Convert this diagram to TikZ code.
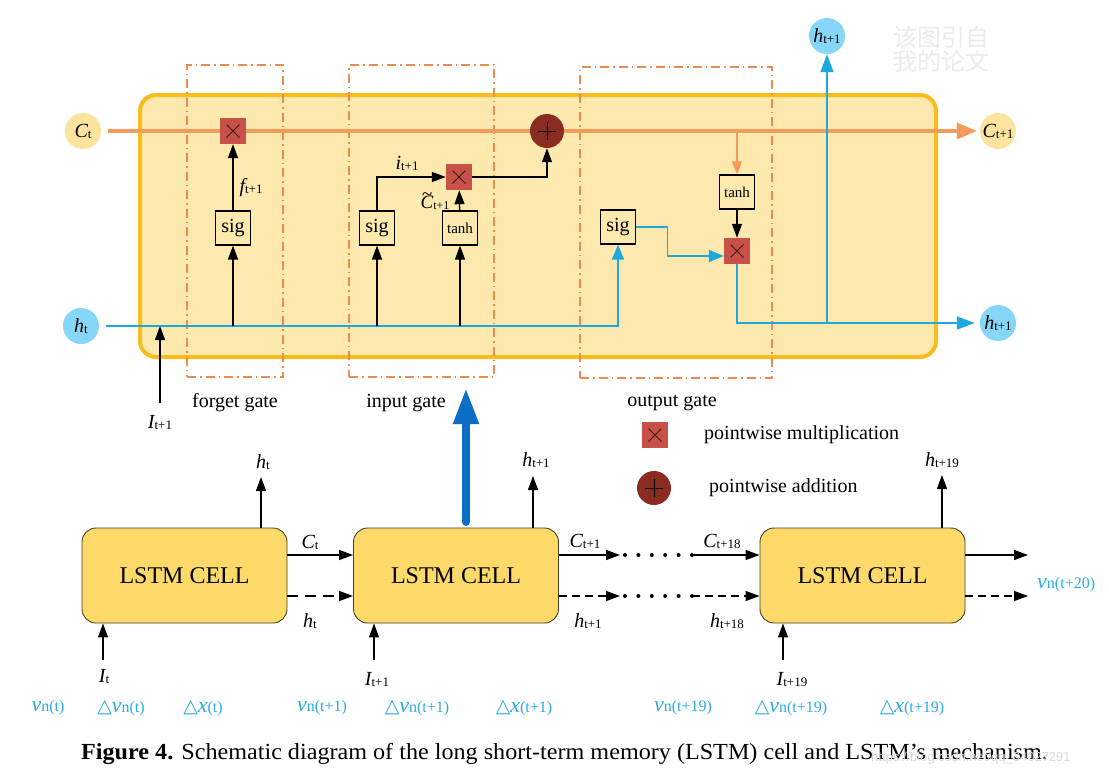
\documentclass[tikz,border=0pt]{standalone}
\usepackage{fontspec}
\setmainfont{Liberation Serif}
\newfontfamily\cjkfont{Noto Sans CJK SC}
\newfontfamily\djvfont{DejaVu Sans}
\newfontfamily\wmfont{Liberation Sans}
\usetikzlibrary{arrows.meta,calc}

\definecolor{gold}{HTML}{F8BD1C}
\definecolor{boxfill}{HTML}{FDE8AE}
\definecolor{cellfill}{HTML}{FDD96A}
\definecolor{celldark}{HTML}{4D4020}
\definecolor{corange}{HTML}{F39B5A}
\definecolor{gateor}{HTML}{EA8B4F}
\definecolor{circC}{HTML}{FCE39E}
\definecolor{circH}{HTML}{86D6F7}
\definecolor{hblue}{HTML}{1EA8E0}
\definecolor{multred}{HTML}{C8524A}
\definecolor{plusred}{HTML}{8B2C22}
\definecolor{xdark}{HTML}{3A1A12}
\definecolor{bigblue}{HTML}{0C6FC5}
\definecolor{labblue}{HTML}{2AACE2}
\definecolor{wmgray}{HTML}{EBEBEB}
\definecolor{wmgrayb}{HTML}{DADADA}

\newcommand{\mylab}[2]{{\fontsize{20}{20}\selectfont\itshape #1}{\fontsize{13}{13}\selectfont\raisebox{-1pt}{#2}}}
\newcommand{\vlab}[2]{{\fontsize{22}{22}\selectfont\itshape #1}{\fontsize{16}{16}\selectfont #2}}
\newcommand{\trisym}{{\djvfont\fontsize{19}{19}\selectfont △}}
\newcommand{\tildeC}{\ooalign{\textit{C}\cr\hidewidth\raisebox{0.45em}{\textit{\char"7E}}\hidewidth\cr}}

\begin{document}
\begin{tikzpicture}[x=1pt,y=-1pt,
  every node/.style={inner sep=1pt, font=\fontsize{20}{24}\selectfont},
  bigbox/.style={draw=gold, fill=boxfill, line width=4pt, rounded corners=16pt, minimum width=796pt, minimum height=262pt},
  gatebox/.style={draw=gateor, line width=1.2pt, dash pattern=on 9pt off 4pt on 1.5pt off 4pt},
  sigbox/.style={draw, line width=1.2pt, fill=boxfill, minimum width=35pt, minimum height=34pt, inner sep=0pt, font=\fontsize{20}{20}\selectfont},
  tanhbox/.style={sigbox, font=\fontsize{15}{15}\selectfont},
  mult/.style={fill=multred, minimum size=26pt, inner sep=0pt,
    path picture={\draw[line width=0.8pt, draw=xdark]
      ([shift={(-6.5pt,-6.5pt)}]path picture bounding box.center) -- ([shift={(6.5pt,6.5pt)}]path picture bounding box.center)
      ([shift={(-6.5pt,6.5pt)}]path picture bounding box.center) -- ([shift={(6.5pt,-6.5pt)}]path picture bounding box.center);}},
  plus/.style={circle, fill=plusred, minimum size=34pt, inner sep=0pt,
    path picture={\draw[line width=0.9pt, draw=black]
      ([xshift=-9pt]path picture bounding box.center) -- ([xshift=9pt]path picture bounding box.center)
      ([yshift=-9pt]path picture bounding box.center) -- ([yshift=9pt]path picture bounding box.center);}},
  ccirc/.style={circle, fill=circC, minimum size=36pt, inner sep=0pt},
  hcirc/.style={circle, fill=circH, minimum size=36pt, inner sep=0pt},
  cellbox/.style={draw=celldark, line width=0.9pt, fill=cellfill, rounded corners=14pt, minimum width=205pt, minimum height=95pt, font=\fontsize{24}{24}\selectfont},
  barr/.style={line width=1.3pt, -{Triangle[length=14pt,width=10pt]}},
  blarr/.style={line width=1.6pt, draw=hblue, hblue, -{Triangle[length=18pt,width=13pt]}},
  carr/.style={line width=3.5pt, draw=corange, corange},
  bluelab/.style={text=labblue}
]
\fill[white] (0,0) rectangle (1109,777);
\useasboundingbox (0,0) rectangle (1109,777);

% ---------- top cell ----------
\node[bigbox] (cellbig) at (538,226) {};
\node[gatebox, minimum width=96pt, minimum height=312pt] (gf) at (235,221) {};
\node[gatebox, minimum width=145pt, minimum height=312pt] (gi) at (421.5,221) {};
\node[gatebox, minimum width=192pt, minimum height=311pt] (go) at (676,222.5) {};

\node (lf) at (235,403) {forget gate};
\node (li) at (406,403) {input gate};
\node (lo) at (672,403) {output gate};

\node[ccirc] (Ct) at (83,131) {\mylab{C}{t}};
\node[ccirc] (Ct1) at (998,131) {\mylab{C}{t+1}};
\node[hcirc] (ht) at (81,326) {\mylab{h}{t}};
\node[hcirc] (ht1) at (998,323) {\mylab{h}{t+1}};
\node[hcirc] (htop) at (827,36) {\mylab{h}{t+1}};

\node[mult] (fmult) at (233,131) {};
\node[mult] (imult) at (459,177) {};
\node[mult] (omult) at (737,251) {};
\node[plus] (plus) at (547,131) {};

\node[sigbox] (fsig) at (233,228) {sig};
\node[sigbox] (isig) at (377,228) {sig};
\node[tanhbox] (itanh) at (460,228) {tanh};
\node[sigbox] (osig) at (618,227) {sig};
\node[tanhbox] (otanh) at (737,192) {tanh};

% cell state line
\draw[carr, shorten <=7pt] (Ct) -- (fmult);
\draw[carr] (fmult) -- (plus);
\draw[carr, -{Triangle[length=20pt,width=16pt]}, shorten >=3pt] (plus) -- (Ct1);
\draw[line width=1.2pt, draw=corange, corange, -{Triangle[length=13pt,width=10pt]}] (otanh.north |- Ct1) -- (otanh);

% hidden line
\draw[blarr, -{Triangle[length=15pt,width=12pt]}, shorten <=7pt] (ht) -| (osig.south);
\draw[barr] (fsig.south |- ht) -- (fsig);
\draw[barr] (fsig) -- (fmult);
\draw[barr] (isig.south |- ht) -- (isig);
\draw[barr] (itanh.south |- ht) -- (itanh);
\draw[barr] (isig.north) |- (imult.west);
\draw[barr] (itanh) -- (imult);
\draw[barr] (imult.east) -| (plus.south);
\draw[blarr, -{Triangle[length=15pt,width=12pt]}] (osig.east) -- ++(31.5,0) |- ([yshift=-5pt]omult.west);
\draw[barr] (otanh) -- (omult);
\draw[blarr, shorten >=5pt] (omult) |- (ht1);
\draw[blarr] (htop |- ht1) -- (htop);

\node (f1) at (251,188) {\mylab{f}{t+1}};
\node[inner sep=0pt] (i1) at (407,163) {\mylab{i}{t+1}};
\node[inner sep=0pt] (ct1) at (435,203) {{\fontsize{19}{19}\selectfont\itshape\tildeC}{\fontsize{12}{12}\selectfont\raisebox{-1pt}{t+1}}};

\coordinate (It1a) at (160,403);
\draw[barr] (It1a) -- (It1a |- ht);
\node (It1) at (160,423) {\mylab{I}{t+1}};

% watermark
\node[text=wmgray, font=\cjkfont\fontsize{24}{24}\selectfont, align=left] (wm) at (941,49) {该图引自\\我的论文};

% big blue arrow
\coordinate (bbtop) at (466,388);
\coordinate (bbbot) at (466,522);
\draw[line width=8pt, draw=bigblue, line cap=round, -{Triangle[length=36pt,width=24pt]}] (bbbot) -- (bbtop);

% legend
\node[mult] (lm) at (655,435) {};
\node[plus] (lp) at (654,488) {};
\node[anchor=west] (lmt) at (703,435) {pointwise multiplication};
\node[anchor=west] (lpt) at (708,488) {pointwise addition};

% ---------- bottom chain ----------
\node[cellbox] (c1) at (184.5,575.5) {LSTM CELL};
\node[cellbox] (c2) at (456,575.5) {LSTM CELL};
\node[cellbox] (c3) at (862.5,575.5) {LSTM CELL};

\coordinate (rowC) at (0,555);
\coordinate (rowH) at (0,596);

\draw[barr] (c1.east |- rowC) -- (c2.west |- rowC);
\draw[barr, dash pattern=on 11pt off 7pt] (c1.east |- rowH) -- (c2.west |- rowH);

\coordinate (dCa) at (620,555);
\coordinate (dCb) at (692,555);
\coordinate (dHa) at (620,596);
\coordinate (dHb) at (692,596);
\draw[barr] (c2.east |- rowC) -- (dCa);
\draw[barr, dash pattern=on 8pt off 5pt] (c2.east |- rowH) -- (dHa);
\foreach \i in {0,...,5} {
  \fill (625+13.4*\i,555) circle (2pt);
  \fill (625+13.4*\i,596) circle (2pt);
}
\draw[barr] (dCb) -- (c3.west |- dCb);
\draw[barr, dash pattern=on 8pt off 5pt] (dHb) -- (c3.west |- dHb);

\coordinate (endC) at (1028,555);
\coordinate (endH) at (1028,596);
\draw[barr] (c3.east |- rowC) -- (endC);
\draw[barr, dash pattern=on 8pt off 5pt] (c3.east |- rowH) -- (endH);

\node (Cl1) at (310,542) {\mylab{C}{t}};
\node (hl1) at (310,621) {\mylab{h}{t}};
\node (Cl2) at (585,541) {\mylab{C}{t+1}};
\node (hl2) at (588,621) {\mylab{h}{t+1}};
\node (Cl3) at (722,541) {\mylab{C}{t+18}};
\node (hl3) at (727,621) {\mylab{h}{t+18}};
\node[bluelab, anchor=west] (vout) at (1036,585) {\vlab{v}{n(t+20)}};

% outputs up
\coordinate (o1) at (261,477);
\coordinate (o2) at (533,476);
\coordinate (o3) at (942,475);
\draw[barr] (c1.north -| o1) -- (o1);
\draw[barr] (c2.north -| o2) -- (o2);
\draw[barr] (c3.north -| o3) -- (o3);
\node (oh1) at (263,462) {\mylab{h}{t}};
\node (oh2) at (536,460) {\mylab{h}{t+1}};
\node (oh3) at (942,460) {\mylab{h}{t+19}};

% inputs
\coordinate (in1) at (103,660);
\coordinate (in2) at (374,660);
\coordinate (in3) at (783,660);
\draw[barr] (in1) -- (in1 |- c1.south);
\draw[barr] (in2) -- (in2 |- c2.south);
\draw[barr] (in3) -- (in3 |- c3.south);
\node (il1) at (104,677) {\mylab{I}{t}};
\node (il2) at (377,680) {\mylab{I}{t+1}};
\node (il3) at (792,680) {\mylab{I}{t+19}};

% feature labels
\node[bluelab] (v1) at (48,708) {\vlab{v}{n(t)}};
\node[bluelab] (v2) at (121,708) {\trisym\vlab{v}{n(t)}};
\node[bluelab] (v3) at (203,708) {\trisym\vlab{x}{(t)}};
\node[bluelab] (v4) at (322,708) {\vlab{v}{n(t+1)}};
\node[bluelab] (v5) at (417,708) {\trisym\vlab{v}{n(t+1)}};
\node[bluelab] (v6) at (524,708) {\trisym\vlab{x}{(t+1)}};
\node[bluelab] (v7) at (683,708) {\vlab{v}{n(t+19)}};
\node[bluelab] (v8) at (791,708) {\trisym\vlab{v}{n(t+19)}};
\node[bluelab] (v9) at (912,708) {\trisym\vlab{x}{(t+19)}};

% caption
\node[anchor=west, font=\fontsize{23}{23}\selectfont] (cap) at (80,754) {\scalebox{1.05}[1]{\textbf{Figure 4.} Schematic diagram of the long short-term memory (LSTM) cell and LSTM’s mechanism.}};
\node[anchor=west, text=wmgrayb, font=\wmfont\fontsize{13}{13}\selectfont] (wm2) at (870,758) {https://blog.csdn.net/qq\_34027291};
\end{tikzpicture}
\end{document}
